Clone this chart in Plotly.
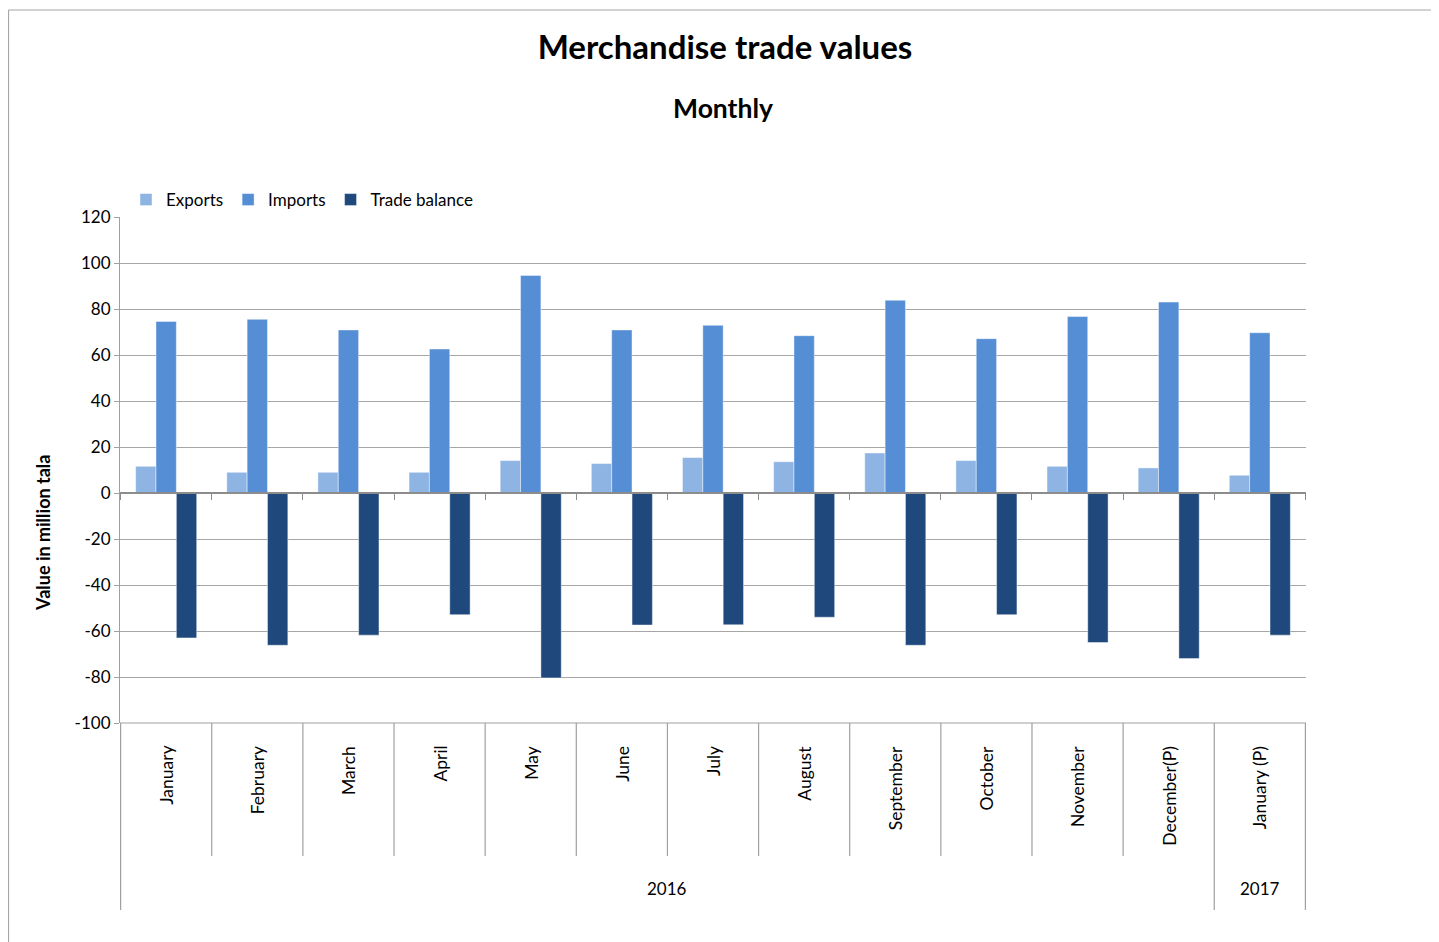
import plotly.graph_objects as go

months = ["January", "February", "March", "April", "May", "June", "July",
          "August", "September", "October", "November", "December(P)", "January (P)"]
years = ["2016", "2017"]
year_spans = [(0, 11), (12, 12)]  # index ranges of months per year

exports = [11.6, 9.0, 9.0, 9.0, 14.1, 12.8, 15.4, 13.6, 17.4, 14.1, 11.6, 10.9, 7.7]
imports = [74.6, 75.5, 70.9, 62.6, 94.6, 70.9, 72.9, 68.4, 83.8, 67.1, 76.7, 83.0, 69.7]
balance = [-63.0, -66.2, -61.8, -52.9, -80.4, -57.4, -57.3, -54.0, -66.2, -52.9, -65.0, -72.0, -61.8]

y_tick_vals = [120, 100, 80, 60, 40, 20, 0, -20, -40, -60, -80, -100]
y_tick_text = ["120", "100", "80", "60", "40", "20", "0", "-20", "-40", "-60", "-80", "-100"]

series_names = ["Exports", "Imports", "Trade balance"]
series_colors = ["#8EB4E3", "#558ED5", "#1F497D"]

# page has an 8px body margin; work in reference (window) pixels and convert
OFF = 8
W, H = 1439 - OFF, 942 - OFF
PL, PR, PT, PB = 120, 1306, 217, 723  # plot area in window pixels
ML, MR, MT, MB = PL - OFF, W - (PR - OFF), PT - OFF, H - (PB - OFF)
PH = PB - PT
PW = PR - PL

def py(pix):
    return (PB - pix) / PH

def px(pix):
    return (pix - PL) / PW

FONT = "Lato"

fig = go.Figure()
for name, vals, col in zip(series_names, [exports, imports, balance], series_colors):
    fig.add_trace(go.Bar(
        x=months, y=vals, name=name,
        marker=dict(color=col, line=dict(color="rgba(255,255,255,0.55)", width=0.8)),
    ))

shapes = []
# category separators below the plot area
for i in range(len(months) + 1):
    b = i - 0.5
    outer = (i == 0) or (i == len(months)) or any(b == s - 0.5 for s, _ in year_spans)
    shapes.append(dict(type="line", xref="x", yref="paper", x0=b, x1=b,
                       y0=0, y1=py(910) if outer else py(856),
                       line=dict(color="#A0A0A0", width=1.2)))
# bottom gridline at -100
shapes.append(dict(type="line", xref="paper", yref="paper", x0=0, x1=1, y0=0, y1=0,
                   line=dict(color="#A0A0A0", width=1.2)))
# outer chart frame
shapes.append(dict(type="line", xref="paper", yref="paper", x0=px(8.5), x1=px(8.5),
                   y0=py(10), y1=py(950), line=dict(color="#A6A6A6", width=1.2)))
shapes.append(dict(type="line", xref="paper", yref="paper", x0=px(8.5), x1=px(1450),
                   y0=py(10), y1=py(10), line=dict(color="#A6A6A6", width=1.2)))

annotations = []
for i, m in enumerate(months):
    annotations.append(dict(x=i, xref="x", y=0, yref="paper", yshift=-21,
                            text=m, textangle=-90, showarrow=False,
                            xanchor="center", yanchor="top",
                            font=dict(family=FONT, size=17.5, color="#000")))
for yr, (s, e) in zip(years, year_spans):
    annotations.append(dict(x=(s + e) / 2, xref="x", y=py(889), yref="paper",
                            text=yr, showarrow=False, xanchor="center", yanchor="middle",
                            font=dict(family=FONT, size=17, color="#000")))
annotations.append(dict(x=px(43), xref="paper", y=py(533), yref="paper",
                        text="<b>Value in million tala</b>", textangle=-90, showarrow=False,
                        xanchor="center", yanchor="middle",
                        font=dict(family=FONT, size=18, color="#000")))
annotations.append(dict(x=px(723), xref="paper", y=py(108), yref="paper",
                        text="<b>Monthly</b>", showarrow=False, xanchor="center", yanchor="middle",
                        font=dict(family=FONT, size=26.5, color="#000")))

fig.update_layout(
    width=W, height=H,
    margin=dict(l=ML, r=MR, t=MT, b=MB),
    paper_bgcolor="white", plot_bgcolor="white",
    font=dict(family=FONT, size=17, color="#000"),
    title=dict(text="<b>Merchandise trade values</b>", x=(725 - OFF) / W, xanchor="center",
               y=1 - (47 - OFF) / H, yanchor="middle", xref="container", yref="container",
               font=dict(family=FONT, size=33, color="#000")),
    barmode="group", bargap=0.33, bargroupgap=0.0,
    legend=dict(orientation="h", x=px(126), xanchor="left", y=py(200), yanchor="middle",
                font=dict(family=FONT, size=17, color="#000"),
                bgcolor="rgba(0,0,0,0)"),
    shapes=shapes, annotations=annotations,
    xaxis=dict(type="category", anchor="free", position=100 / 220,
               showticklabels=False, ticks="outside", tickson="boundaries",
               ticklen=6, tickcolor="#8C8C8C", showline=True, linecolor="#8C8C8C",
               linewidth=1.5, showgrid=False, zeroline=False),
    yaxis=dict(range=[-100, 120], tickvals=y_tick_vals, ticktext=y_tick_text,
               showgrid=True, gridcolor="#A6A6A6",
               gridwidth=1.2, zeroline=False, showline=True, linecolor="#A0A0A0",
               linewidth=1.2, ticks="outside", ticklen=5, tickcolor="#A0A0A0",
               tickfont=dict(family=FONT, size=17, color="#000")),
)

fig.write_html("out.html")
